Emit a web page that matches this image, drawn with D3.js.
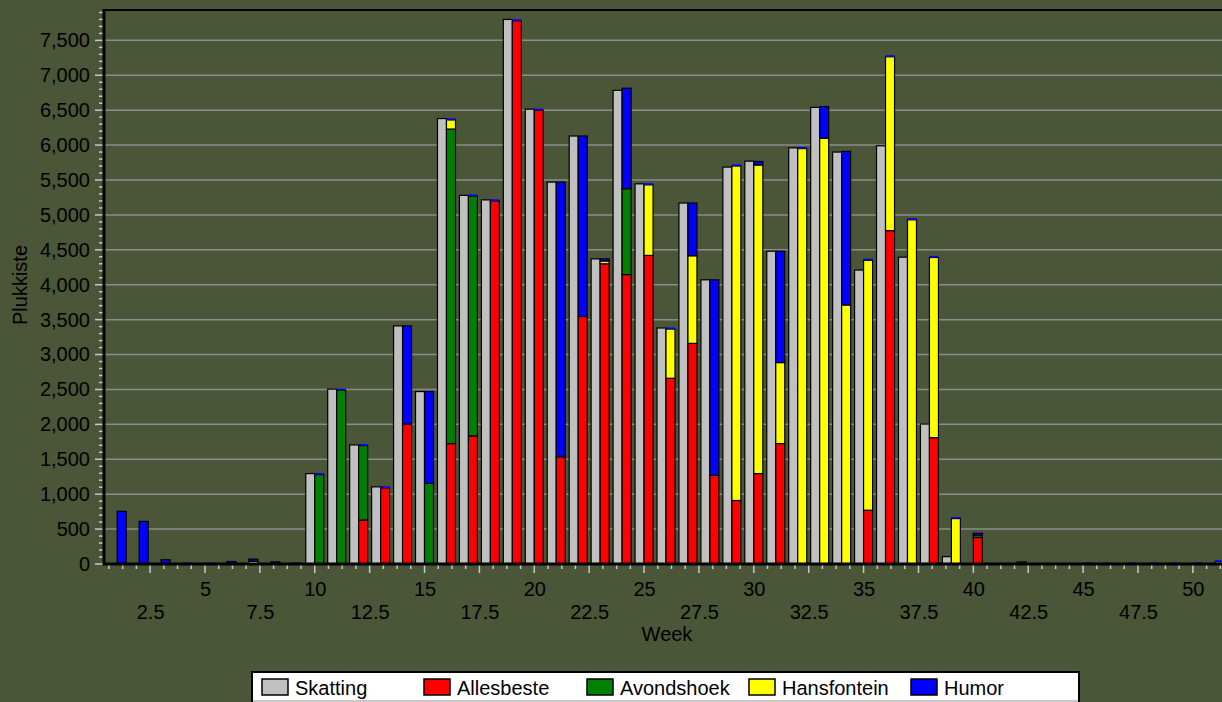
<!DOCTYPE html>
<html>
<head>
<meta charset="utf-8">
<script src="https://cdn.jsdelivr.net/npm/d3@7"></script>
<style>
  body { margin: 0; background: #4a5637; }
  svg { display: block; font-family: "Liberation Sans", Arial, sans-serif; }
</style>
</head>
<body>
<div id="chart"></div>
<script>
/**
 * Data (weeks 1..51)
 */
var weeks = d3.range(1, 52);

var skatting = [
  0, 0, 0, 0, 0, 0, 0, 0, 0, 1295,
  2505, 1705, 1105, 3410, 2470, 6380, 5280, 5215, 7800, 6515,
  5470, 6130, 4370, 6785, 5445, 3380, 5170, 4070, 5685, 5770,
  4480, 5960, 6540, 5900, 4210, 5990, 4395, 2005, 105, 0,
  0, 0, 0, 0, 0, 0, 0, 0, 0, 0, 0
];
var allesbeste = [
  0, 0, 0, 0, 0, 0, 0, 0, 0, 0,
  0, 630, 1090, 2005, 0, 1725, 1835, 5200, 7780, 6500,
  1535, 3545, 4300, 4145, 4420, 2660, 3160, 1270, 910, 1295,
  1725, 0, 0, 0, 770, 4775, 0, 1810, 0, 380,
  0, 0, 0, 0, 0, 0, 0, 0, 0, 0, 0
];
var avondshoek = [
  0, 0, 0, 0, 0, 0, 0, 0, 0, 1280,
  2490, 1065, 0, 0, 1155, 4505, 3435, 0, 0, 0,
  0, 0, 0, 1230, 0, 0, 0, 0, 0, 0,
  0, 0, 0, 0, 0, 0, 0, 0, 0, 30,
  0, 30, 0, 0, 0, 0, 0, 0, 0, 0, 0
];
var hansfontein = [
  15, 0, 0, 0, 0, 0, 40, 0, 0, 0,
  0, 0, 0, 0, 0, 130, 0, 0, 0, 0,
  0, 0, 40, 0, 1010, 705, 1255, 0, 4790, 4420,
  1160, 5950, 6100, 3710, 3580, 2490, 4930, 2580, 650, 0,
  0, 0, 0, 0, 0, 0, 0, 0, 0, 0, 30
];
var humor = [
  740, 610, 60, 15, 10, 35, 30, 30, 10, 15,
  15, 15, 15, 1405, 1315, 20, 15, 15, 15, 15,
  3935, 2585, 30, 1440, 20, 20, 755, 2800, 20, 50,
  1595, 20, 450, 2200, 20, 25, 25, 15, 15, 30,
  0, 0, 0, 0, 20, 20, 15, 20, 10, 8, 20
];

var stackKeys = ["Allesbeste", "Avondshoek", "Hansfontein", "Humor"];
var legendNames = ["Skatting", "Allesbeste", "Avondshoek", "Hansfontein", "Humor"];
var yTicks = d3.range(0, 7501, 500);

/**
 * Globals
 */
var W = 1222, H = 702;
var plot = { l: 104, t: 10, r: 1228, b: 564 };
var barW = 0.41; // in weeks

var colors = {
  Skatting: "#c0c0c0",
  Allesbeste: "#ff0000",
  Avondshoek: "#008000",
  Hansfontein: "#ffff00",
  Humor: "#0000ff"
};

var scale = {
  x: d3.scaleLinear().domain([0.4, 51.6]).range([plot.l, plot.r]),
  y: d3.scaleLinear().domain([0, 7935]).range([plot.b, plot.t])
};

var svg = d3.select("#chart").append("svg")
  .attr("width", W)
  .attr("height", H);

svg.append("rect")
  .attr("width", W)
  .attr("height", H)
  .attr("fill", "#4a5637");

// build table for the stack
var table = weeks.map(function (w, i) {
  return {
    week: w,
    Allesbeste: allesbeste[i],
    Avondshoek: avondshoek[i],
    Hansfontein: hansfontein[i],
    Humor: humor[i]
  };
});
var series = d3.stack().keys(stackKeys)(table);

/**
 * Grid lines
 */
svg.append("g")
  .selectAll("line")
  .data(yTicks.filter(function (d) { return d > 0; }))
  .join("line")
  .attr("x1", plot.l)
  .attr("x2", W)
  .attr("y1", function (d) { return scale.y(d); })
  .attr("y2", function (d) { return scale.y(d); })
  .attr("stroke", "#8c8c8c")
  .attr("stroke-width", 1.5);

/**
 * Bars
 */
var bars = svg.append("g").attr("class", "bars");

// estimate (gray) bars, left of the week
bars.selectAll(".skat")
  .data(weeks.filter(function (w, i) { return skatting[i] > 0; }))
  .join("rect")
  .attr("class", "skat")
  .attr("x", function (w) { return scale.x(w - barW); })
  .attr("width", function (w) { return scale.x(w) - scale.x(w - barW); })
  .attr("y", function (w) { return scale.y(skatting[w - 1]); })
  .attr("height", function (w) { return scale.y(0) - scale.y(skatting[w - 1]); })
  .attr("fill", colors.Skatting)
  .attr("stroke", "#000")
  .attr("stroke-width", 1.2);

// stacked farm bars, right of the week
series.forEach(function (s) {
  bars.append("g")
    .selectAll("rect")
    .data(s.filter(function (d) { return d[1] - d[0] > 0; }))
    .join("rect")
    .attr("x", function (d) { return scale.x(d.data.week); })
    .attr("width", function (d) { return scale.x(d.data.week + barW) - scale.x(d.data.week); })
    .attr("y", function (d) {
      var h = scale.y(d[0]) - scale.y(d[1]);
      return h < 1.8 ? scale.y(d[0]) - 1.6 : scale.y(d[1]);
    })
    .attr("height", function (d) {
      var h = scale.y(d[0]) - scale.y(d[1]);
      return h < 1.8 ? 1.6 : h;
    })
    .attr("fill", colors[s.key])
    .attr("stroke", function (d) {
      return scale.y(d[0]) - scale.y(d[1]) < 1.8 ? "none" : "#000";
    })
    .attr("stroke-width", 1.2);
});

/**
 * Axes
 */
// y minor ticks
svg.append("g")
  .selectAll("line")
  .data(d3.range(0, 7901, 100))
  .join("line")
  .attr("x1", function (d) { return d % 500 === 0 ? plot.l - 9 : plot.l - 5; })
  .attr("x2", plot.l - 1)
  .attr("y1", function (d) { return scale.y(d); })
  .attr("y2", function (d) { return scale.y(d); })
  .attr("stroke", "#c8c8c8")
  .attr("stroke-width", 1.5);

var yAxis = svg.append("g")
  .attr("transform", "translate(" + plot.l + ",0)")
  .call(d3.axisLeft(scale.y).tickValues(yTicks).tickFormat(d3.format(",")).tickSize(0).tickPadding(14));
yAxis.select(".domain").remove();
yAxis.selectAll("text").attr("font-size", 20).attr("fill", "#000");

// x ticks (minor every 0.625, major every 2.5)
svg.append("g")
  .selectAll("line")
  .data(d3.range(1, 83).map(function (i) { return i * 0.625; }))
  .join("line")
  .attr("x1", function (d) { return scale.x(d); })
  .attr("x2", function (d) { return scale.x(d); })
  .attr("y1", plot.b)
  .attr("y2", function (d, i) { return (i + 1) % 4 === 0 ? plot.b + 9 : plot.b + 5; })
  .attr("stroke", "#c8c8c8")
  .attr("stroke-width", 1.5);

var xAxis = svg.append("g")
  .attr("transform", "translate(0," + plot.b + ")")
  .call(d3.axisBottom(scale.x).tickValues(d3.range(2.5, 51, 2.5)).tickFormat(d3.format("")).tickSize(0));
xAxis.select(".domain").remove();
xAxis.selectAll("text")
  .attr("font-size", 20)
  .attr("fill", "#000")
  .attr("dy", null)
  .attr("y", function (d) { return d % 5 === 0 ? 32 : 55; });

// frame lines
svg.append("line")
  .attr("x1", plot.l).attr("x2", W)
  .attr("y1", plot.t).attr("y2", plot.t)
  .attr("stroke", "#000").attr("stroke-width", 2);
svg.append("line")
  .attr("x1", plot.l).attr("x2", plot.l)
  .attr("y1", plot.t - 1).attr("y2", plot.b + 1)
  .attr("stroke", "#000").attr("stroke-width", 3);
svg.append("line")
  .attr("x1", plot.l - 1).attr("x2", W)
  .attr("y1", plot.b).attr("y2", plot.b)
  .attr("stroke", "#000").attr("stroke-width", 3);

// axis titles
svg.append("text")
  .attr("transform", "translate(27,285) rotate(-90)")
  .attr("text-anchor", "middle")
  .attr("font-size", 20)
  .text("Plukkiste");

svg.append("text")
  .attr("x", 667)
  .attr("y", 641)
  .attr("text-anchor", "middle")
  .attr("font-size", 20)
  .text("Week");

/**
 * Legend
 */
var legend = svg.append("g");
legend.append("rect")
  .attr("x", 252).attr("y", 672)
  .attr("width", 827).attr("height", 29)
  .attr("fill", "#fff")
  .attr("stroke", "#000")
  .attr("stroke-width", 2);
legend.append("line")
  .attr("x1", 253).attr("x2", 1078)
  .attr("y1", 701).attr("y2", 701)
  .attr("stroke", "#c8c8c8").attr("stroke-width", 2);

var legendX = [262, 424, 587, 749, 911];
var item = legend.selectAll(".item")
  .data(legendNames)
  .join("g")
  .attr("class", "item")
  .attr("transform", function (d, i) { return "translate(" + legendX[i] + ",679)"; });
item.append("rect")
  .attr("width", 26).attr("height", 16)
  .attr("fill", function (d) { return colors[d]; })
  .attr("stroke", "#000")
  .attr("stroke-width", 1.5);
item.append("text")
  .attr("x", 33)
  .attr("y", 16)
  .attr("font-size", 20)
  .text(function (d) { return d; });
</script>
</body>
</html>
